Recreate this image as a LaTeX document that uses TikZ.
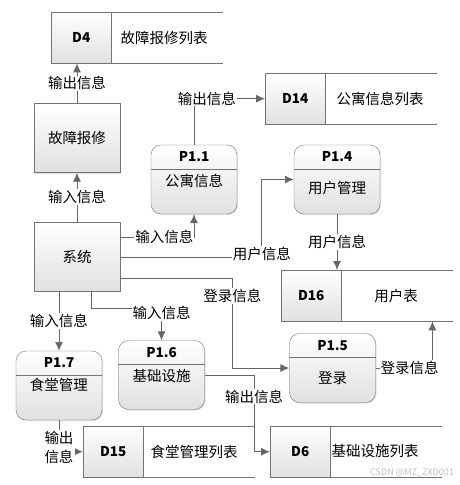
\documentclass[tikz,border=0pt]{standalone}
\usepackage{fontspec}
\setmainfont{Noto Sans CJK SC}
\usetikzlibrary{arrows.meta,shadows}

\begin{document}
\begin{tikzpicture}[x=1pt, y=1pt,
			>={Latex[length=9pt,width=8pt]},   %Pfeilspitzen
			font=\fontsize{14.5}{17}\selectfont,
			box/.style={draw=black!55, top color=white, bottom color=black!12, drop shadow={opacity=.25, shadow xshift=1pt, shadow yshift=-1pt}},
			proc/.style={box, minimum width=86, minimum height=69, inner sep=0pt},
			pbox/.style={proc, rounded corners=10pt},
			store/.style={box, anchor=north west, minimum width=60, minimum height=51, inner sep=0pt, font=\fontsize{13.5}{15}\selectfont\bfseries},
			flow/.style={draw=black!60, line width=0.9pt, ->},
			lbl/.style={fill=white, inner sep=1pt}]
			\useasboundingbox (0,0) rectangle (460,-485);
			% Rechtecke
			\node[proc] (sys) at (77,-256.5) {系统};
			\node[proc] (repair) at (77,-138) {故障报修};
			% Prozesse
			\foreach \nm/\cx/\cy/\ttl/\txt/\ty in {p11/194/179.5/P1.1/公寓信息/181, p14/337/179.5/P1.4/用户管理/188, p15/332.5/368/P1.5/登录/378, p16/161.5/375/P1.6/基础设施/376, p17/59/385.5/P1.7/食堂管理/385} {
				\node[pbox] (\nm) at (\cx,-\cy) {};
				\draw[black!55] ([yshift=-24pt]\nm.north west) -- ([yshift=-24pt]\nm.north east);
				\node[font=\fontsize{13.5}{15}\selectfont\bfseries] (\nm t) at ([yshift=-12pt]\nm.north) {\ttl};
				\node (\nm b) at (\cx,-\ty) {\txt};
			}
			% Datenspeicher
			\foreach \nm/\x/\y/\id/\txt/\tx in {d4/51/12/D4/故障报修列表/164, d14/265/73/D14/公寓信息列表/380, d16/281/270/D16/用户表/396, d15/83/426/D15/食堂管理列表/194, d6/270/426/D6/基础设施列表/375} {
				\node[store] (\nm) at (\x,-\y) {\id};
				\draw[black!55] (\nm.north east) -- ++(112,0) (\nm.south east) -- ++(112,0);
				\node (\nm n) at (\tx,-\y-25.5) {\txt};
			}
			% Datenfluesse
			\draw[flow] (repair.north) -- node[lbl]{输出信息} (repair.north |- d4.south);
			\draw[flow] (sys.north) -- node[lbl]{输入信息} (repair.south);
			\draw[flow] (sys.east |- 0,-237) -| node[lbl,pos=.3]{输入信息} (p11.south);
			\draw[flow] (p11.north) |- node[lbl,pos=.59]{输出信息} (d14.west);
			\draw[flow] (sys.east |- 0,-257) -| node[lbl,pos=.5,yshift=3pt]{用户信息} ([xshift=-32pt]p14.west) -- (p14.west);
			\draw[flow] (p14.south) -- node[lbl]{用户信息} (p14.south |- d16.north);
			\draw[flow] (sys.east |- 0,-278) -| node[lbl,pos=.6]{登录信息} ([xshift=-57pt]p15.west) -- (p15.west);
			\draw[flow] (p15.east) -| node[lbl,pos=.3]{登录信息} ([xshift=91pt]d16.south east);
			\draw[flow] (p17.north |- sys.south) -- node[lbl]{输入信息} (p17.north);
			\draw[flow] ([xshift=14pt]sys.south) |- ([yshift=32pt]p16.north) node[lbl,yshift=-5pt]{输入信息} -- (p16.north);
			\draw[flow] (p16.east) -| node[lbl,pos=.64]{输出信息} ([xshift=-16pt]d6.west) -- (d6.west);
			\draw[flow] (p17.south) |- node[lbl,pos=.5,yshift=4pt,align=center,font=\fontsize{14.5}{19}\selectfont]{输出\\信息} (d15.west);
			%Wasserzeichen
			\node[text=black!25, font=\fontsize{9}{10}\selectfont] (wm) at (412,-473) {CSDN @MZ\_ZXD001};
		\end{tikzpicture}
\end{document}
